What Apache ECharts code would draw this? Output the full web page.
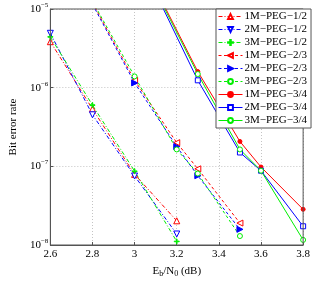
<!DOCTYPE html>
<html>
<head>
<meta charset="utf-8">
<script src="https://cdn.jsdelivr.net/npm/echarts@6/dist/echarts.min.js"></script>
<style>
html,body{margin:0;padding:0;background:#fff;}
#c{width:313px;height:283px;}
</style>
</head>
<body>
<div id="c"></div>
<script>
// x positions per group (Eb/N0 in dB)
var X12 = [2.6, 2.8, 3.0, 3.2];
var X23 = [2.8, 3.0, 3.2, 3.3, 3.5];
var X34 = [3.1, 3.3, 3.5, 3.6, 3.8];

// Bit error rate values
var BER_1M_12 = [3.84e-6, 5.36e-7, 7.9e-8, 2.03e-8];
var BER_2M_12 = [4.91e-6, 4.52e-7, 7.53e-8, 1.38e-8];
var BER_3M_12 = [4.42e-6, 6.0e-7, 8.67e-8, 1.11e-8];

var BER_1M_23 = [1.2e-5, 1.24e-6, 2.0e-7, 9.3e-8, 1.9e-8];
var BER_2M_23 = [1.15e-5, 1.15e-6, 1.78e-7, 7.6e-8, 1.58e-8];
var BER_3M_23 = [1.25e-5, 1.39e-6, 1.64e-7, 8.1e-8, 1.3e-8];

var BER_1M_34 = [1.8e-5, 1.6e-6, 2.07e-7, 9.8e-8, 2.84e-8];
var BER_2M_34 = [1.6e-5, 1.24e-6, 1.5e-7, 8.8e-8, 1.73e-8];
var BER_3M_34 = [1.7e-5, 1.49e-6, 1.64e-7, 8.8e-8, 1.16e-8];

var NAMES = ['1M\u2212PEG\u22121/2','2M\u2212PEG\u22121/2','3M\u2212PEG\u22121/2',
             '1M\u2212PEG\u22122/3','2M\u2212PEG\u22122/3','3M\u2212PEG\u22122/3',
             '1M\u2212PEG\u22123/4','2M\u2212PEG\u22123/4','3M\u2212PEG\u22123/4'];

var Y_MINOR = [];
[1e-8, 1e-7, 1e-6].forEach(function(d){ for (var k=2;k<=9;k++) Y_MINOR.push(+(d*k).toPrecision(3)); });

var RED = '#ff0000', BLUE = '#0000ff', GREEN = '#00ee00';
var FONT = 'Liberation Serif';
var DASHDOT = [4, 2, 1, 2];
var DASH = [3, 2.5];
var PLUS = 'path://M-0.12,-1L0.12,-1L0.12,-0.12L1,-0.12L1,0.12L0.12,0.12L0.12,1L-0.12,1L-0.12,0.12L-1,0.12L-1,-0.12L-0.12,-0.12Z';

function pairs(xs, ys){ return xs.map(function(x,i){ return [x, ys[i]]; }); }

function mk(name, xs, ys, color, dash, symbol, size, rot, filled){
  return {
    name: name, type: 'line', data: pairs(xs, ys),
    symbol: symbol, symbolSize: size, symbolRotate: rot || 0,
    showAllSymbol: true,
    lineStyle: {color: color, width: 1, type: dash},
    itemStyle: {color: filled ? color : '#fff', borderColor: color, borderWidth: 1},
    emphasis: {disabled: true},
    animation: false, z: 3
  };
}

var series = [
  mk(NAMES[0], X12, BER_1M_12, RED, DASHDOT, 'triangle', 6, 0, false),
  mk(NAMES[1], X12, BER_2M_12, BLUE, DASHDOT, 'triangle', 6, 180, false),
  mk(NAMES[2], X12, BER_3M_12, GREEN, DASHDOT, PLUS, 5, 0, true),
  mk(NAMES[3], X23, BER_1M_23, RED, DASH, 'triangle', 6, 90, false),
  mk(NAMES[4], X23, BER_2M_23, BLUE, DASH, 'triangle', 6, -90, true),
  mk(NAMES[5], X23, BER_3M_23, GREEN, DASH, 'circle', 5, 0, false),
  mk(NAMES[6], X34, BER_1M_34, RED, 'solid', 'circle', 4, 0, true),
  mk(NAMES[7], X34, BER_2M_34, BLUE, 'solid', 'rect', 5, 0, false),
  mk(NAMES[8], X34, BER_3M_34, GREEN, 'solid', 'circle', 5, 0, false)
];

series.unshift({
  name: 'minorgrid', type: 'line', data: [], silent: true, z: 1,
  markLine: {
    silent: true, symbol: ['none','none'], animation: false,
    label: {show: false},
    lineStyle: {color: '#c4c4c4', type: [1, 2], width: 1},
    emphasis: {disabled: true},
    data: Y_MINOR.map(function(v){ return {yAxis: v}; })
  }
});

var chart = echarts.init(document.getElementById('c'), null, {renderer: 'canvas'});
chart.setOption({
  animation: false,
  backgroundColor: '#fff',
  textStyle: {fontFamily: FONT},
  grid: {left: 34, right: 7, top: 9, bottom: 29, show: true, borderColor: '#555', borderWidth: 1, backgroundColor: 'transparent', z: 5},
  legend: {
    data: NAMES, orient: 'vertical', left: 216, top: 9,
    itemWidth: 24, itemHeight: 6, itemGap: 2,
    padding: [2, 4, 2, 2],
    backgroundColor: '#fff', borderColor: '#555', borderWidth: 1,
    lineStyle: {width: 1},
    textStyle: {fontFamily: FONT, fontSize: 11, color: '#000', padding: [0,0,0,-3]},
    selectedMode: false, z: 10
  },
  xAxis: {
    type: 'value', min: 2.6, max: 3.8, interval: 0.2,
    name: '{a|E}{s|b}{a|/N}{s|0}{a| (dB)}', nameLocation: 'middle', nameGap: 19,
    nameTextStyle: {rich: {
      a: {fontFamily: FONT, fontSize: 11, color: '#000'},
      s: {fontFamily: FONT, fontSize: 8, color: '#000', verticalAlign: 'bottom', padding: [6,0,0,0]}
    }},
    axisLine: {show: true, onZero: false, lineStyle: {color: '#555'}},
    axisTick: {show: true, inside: true, length: 3, lineStyle: {color: '#555'}},
    axisLabel: {fontFamily: FONT, fontSize: 11, color: '#000', margin: 4,
      formatter: function(v){ return String(Number(v.toFixed(1))); }},
    splitLine: {show: true, lineStyle: {color: '#c4c4c4', type: [1, 2]}}
  },
  yAxis: {
    type: 'log', logBase: 10, min: 1e-8, max: 1e-5,
    name: 'Bit error rate', nameLocation: 'middle', nameGap: 25,
    nameTextStyle: {fontFamily: FONT, fontSize: 11, color: '#000'},
    axisLine: {show: true, lineStyle: {color: '#555'}},
    axisTick: {show: true, inside: true, length: 3, lineStyle: {color: '#555'}},
    axisLabel: {margin: 2,
      formatter: function(v){ var e = Math.round(Math.log10(v)); return '{b|10}{e|\u2212' + (-e) + '}'; },
      rich: {
        b: {fontFamily: FONT, fontSize: 11, color: '#000'},
        e: {fontFamily: FONT, fontSize: 7, color: '#000', verticalAlign: 'top', padding: [0,0,8,0]}
      }},
    splitLine: {show: true, lineStyle: {color: '#c4c4c4', type: [1, 2]}}
  },
  series: series
});
</script>
</body>
</html>
